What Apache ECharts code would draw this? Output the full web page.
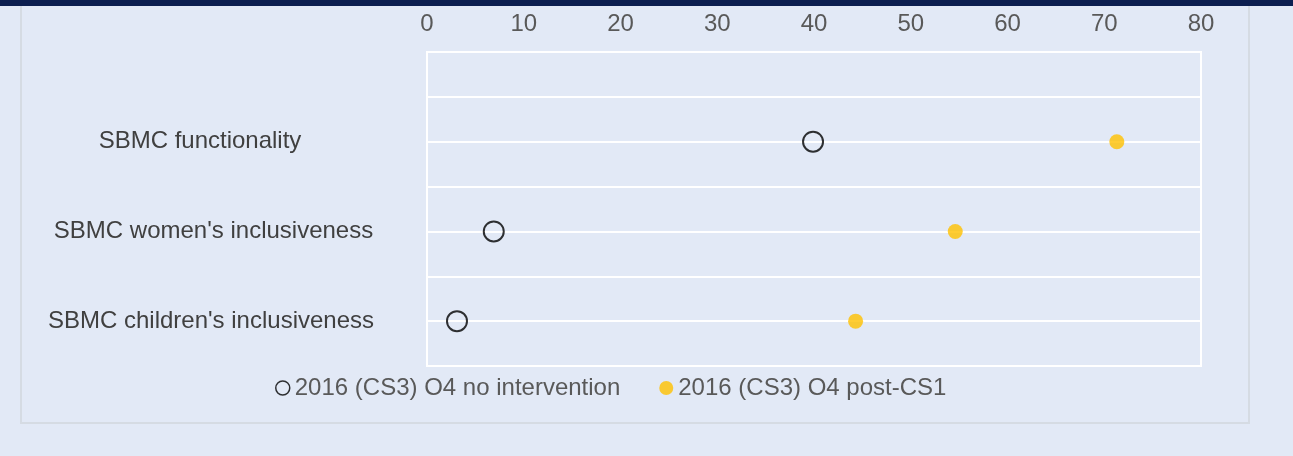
<!DOCTYPE html>
<html>
<head>
<meta charset="utf-8">
<script src="https://cdn.jsdelivr.net/npm/echarts@6/dist/echarts.min.js"></script>
<style>
	body { margin: 0; background: #E2E9F6; font-family: "Liberation Sans", Arial, sans-serif; }
	#topbar { position: absolute; left: 0; top: 0; width: 1293px; height: 6px; background: #0C1E50; }
	#panel { position: absolute; left: 20px; top: 6px; width: 1226px; height: 416px; border: 2px solid #D5DBE3; border-top: none; }
	#chart { position: absolute; left: 0; top: 0; width: 1293px; height: 456px; }
</style>
</head>
<body>
<div id="topbar"></div>
<div id="panel"></div>
<div id="chart"></div>
<script type="text/javascript">
// bottom to top, as drawn
var categories = ["SBMC children's inclusiveness", "SBMC women's inclusiveness", 'SBMC functionality'];
var noIntervention = [3.1, 6.9, 39.9];
var postCS1 = [44.3, 54.6, 71.3];
var xTicks = [0, 10, 20, 30, 40, 50, 60, 70, 80];
var seriesNames = ['2016 (CS3) O4 no intervention', '2016 (CS3) O4 post-CS1'];

function toPoints(values) {
	var out = [];
	for (var i = 0; i < values.length; i++) {
		out.push([values[i], i + 0.5]);
	}
	return out;
}

// small nudges so the labels sit where the original puts them
var labelStyle = {
	'SBMC functionality': 's',
	"SBMC women's inclusiveness": 'w'
};

var option = {
	animation: false,
	grid: {
		left: 427,
		right: 92,
		top: 52,
		bottom: 90,
		show: true,
		borderColor: '#ffffff',
		borderWidth: 2,
		backgroundColor: 'transparent'
	},
	legend: {
		bottom: 51,
		left: 270,
		itemGap: 39,
		itemWidth: 14,
		itemHeight: 14,
		textStyle: { color: '#595959', fontSize: 24, fontFamily: 'Liberation Sans' },
		data: [
			{ name: seriesNames[0], icon: 'circle', itemStyle: { color: 'rgba(0,0,0,0)', borderColor: '#000', borderWidth: 1.5 } },
			{ name: seriesNames[1], icon: 'circle' }
		]
	},
	xAxis: {
		type: 'value',
		position: 'top',
		min: xTicks[0],
		max: xTicks[xTicks.length - 1],
		interval: 10,
		axisLine: { show: false },
		axisTick: { show: false },
		splitLine: { show: false },
		axisLabel: { color: '#595959', fontSize: 24, fontFamily: 'Liberation Sans', margin: 16 }
	},
	yAxis: {
		type: 'value',
		min: 0,
		max: 3.5,
		interval: 0.5,
		axisLine: { show: false },
		axisTick: { show: false },
		splitLine: { show: true, lineStyle: { color: '#ffffff', width: 2 } },
		axisLabel: {
			color: '#404040',
			fontSize: 24,
			fontFamily: 'Liberation Sans',
			align: 'center',
			margin: 216,
			formatter: function (v) {
				var idx = v - 0.5;
				if (Math.abs(idx - Math.round(idx)) > 1e-6) return '';
				var name = categories[Math.round(idx)];
				if (name === undefined) return '';
				var key = labelStyle[name];
				return key ? '{' + key + '|' + name + '}' : name;
			},
			rich: {
				s: { color: '#404040', fontSize: 24, fontFamily: 'Liberation Sans', padding: [0, 22, 0, 0] },
				w: { color: '#404040', fontSize: 24, fontFamily: 'Liberation Sans', padding: [0, 0, 0, 5] }
			}
		}
	},
	series: [
		{
			name: seriesNames[0],
			type: 'scatter',
			symbol: 'circle',
			symbolSize: 20,
			itemStyle: { color: 'rgba(0,0,0,0)', borderColor: '#000000', borderWidth: 2 },
			data: toPoints(noIntervention),
			z: 3
		},
		{
			name: seriesNames[1],
			type: 'scatter',
			symbol: 'circle',
			symbolSize: 15,
			itemStyle: { color: '#FFC000' },
			data: toPoints(postCS1),
			z: 4
		}
	]
};

var myChart = echarts.init(document.getElementById('chart'), null, { renderer: 'canvas' });
myChart.setOption(option);
</script>
</body>
</html>
